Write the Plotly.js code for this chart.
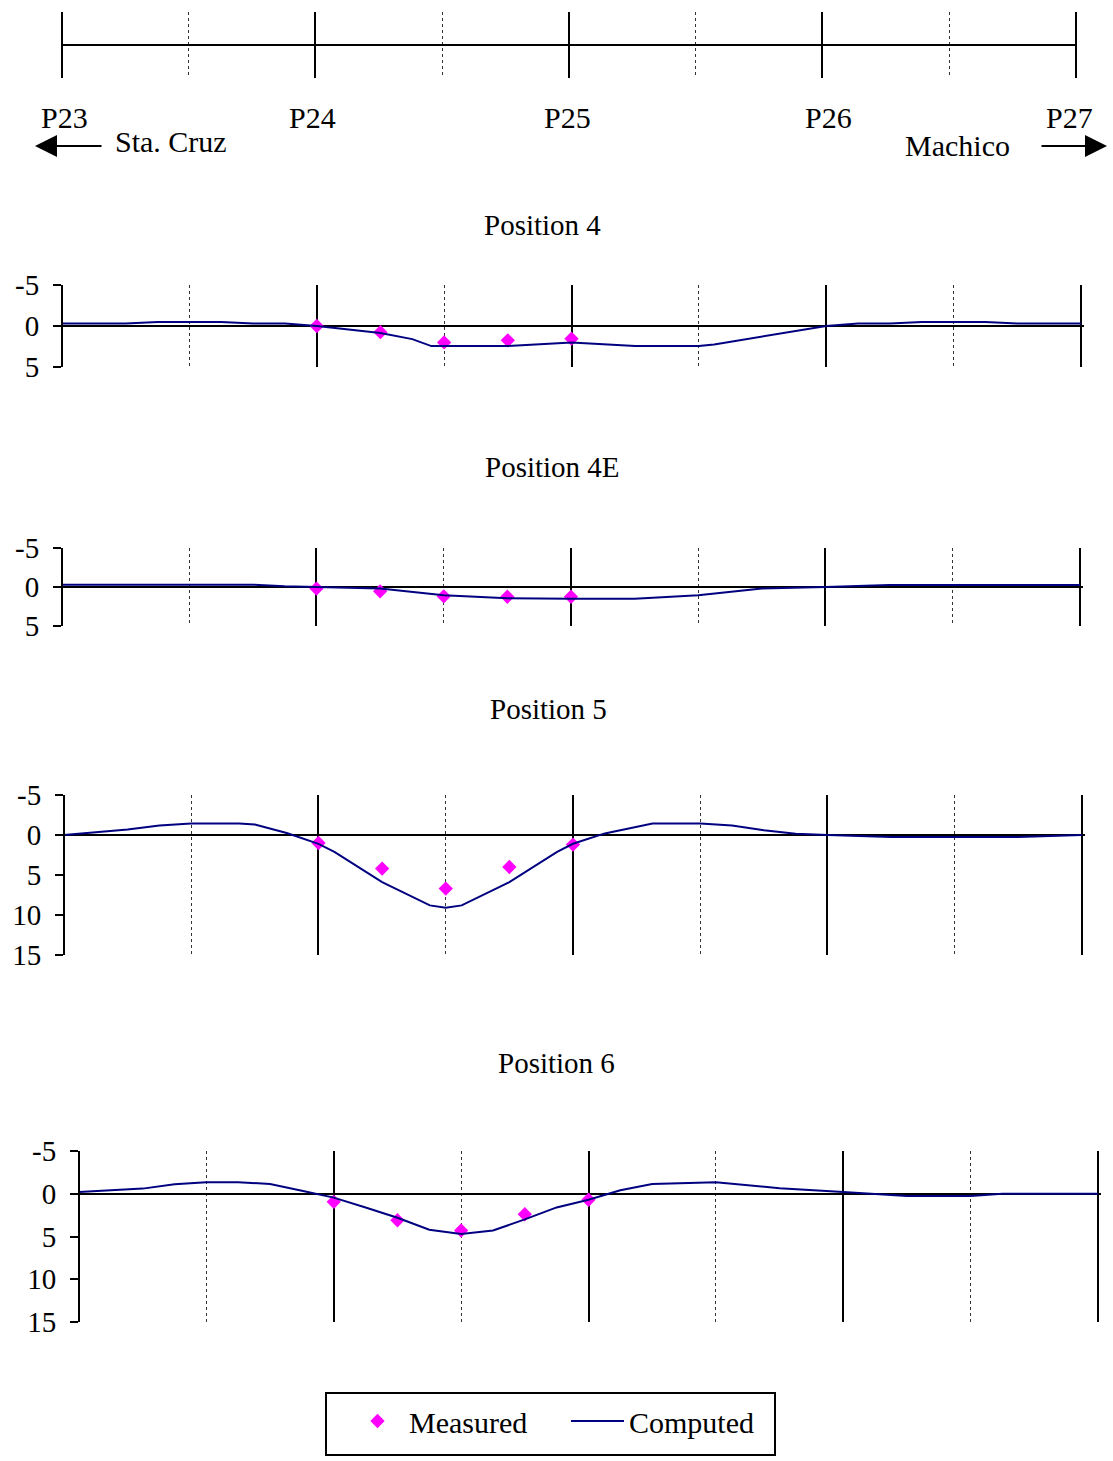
<!DOCTYPE html>
<html><head><meta charset="utf-8">
<script src="https://cdn.plot.ly/plotly-3.0.1.min.js"></script>
<style>html,body{margin:0;padding:0;background:#fff}</style>
</head><body><div id="chart" style="width:1113px;height:1461px"></div>
<script>
// ---- data ----
const piers = ['P23', 'P24', 'P25', 'P26', 'P27'];
const pierPos = [0, 1, 2, 3, 4];
const panelTitles = ['Position 4', 'Position 4E', 'Position 5', 'Position 6'];
const yTickVals4 = [-5, 0, 5];
const yTickText4 = ['-5', '0', '5'];
const yTickVals5 = [-5, 0, 5, 10, 15];
const yTickText5 = ['-5', '0', '5', '10', '15'];

const measuredX = [1, 1.25, 1.5, 1.75, 2];
const measured4 = [0, 0.75, 2.0, 1.75, 1.55];
const measured4E = [0.2, 0.55, 1.2, 1.25, 1.25];
const measured5 = [1.0, 4.2, 6.7, 4.0, 1.2];
const measured6 = [0.95, 3.1, 4.3, 2.4, 0.7];

const computed4X = [0, 0.25, 0.375, 0.625, 0.75, 0.875, 1.0, 1.25, 1.375, 1.45, 1.75, 2.0, 2.25, 2.5, 2.56, 3.0, 3.125, 3.25, 3.375, 3.625, 3.75, 4.0];
const computed4 = [-0.3, -0.3, -0.5, -0.5, -0.3, -0.3, 0, 0.85, 1.6, 2.45, 2.45, 2.0, 2.45, 2.45, 2.25, 0, -0.3, -0.3, -0.5, -0.5, -0.3, -0.3];

const computed4EX = [0, 0.75, 0.875, 1.0, 1.125, 1.25, 1.5, 1.75, 2.0, 2.25, 2.5, 2.75, 3.0, 3.25, 4.0];
const computed4E = [-0.3, -0.3, -0.1, 0, 0.05, 0.2, 1.05, 1.45, 1.5, 1.5, 1.05, 0.2, 0, -0.25, -0.25];

const computed5X = [0, 0.25, 0.375, 0.5, 0.6875, 0.75, 0.875, 1.0, 1.0625, 1.25, 1.4375, 1.5, 1.5625, 1.75, 1.9375, 2.0, 2.125, 2.3125, 2.5, 2.625, 2.75, 2.875, 3.0, 3.25, 3.75, 4.0];
const computed5 = [0, -0.7, -1.2, -1.45, -1.45, -1.3, -0.25, 1.1, 2.1, 5.9, 8.8, 9.1, 8.8, 5.9, 2.1, 1.1, -0.2, -1.45, -1.45, -1.2, -0.6, -0.15, 0, 0.25, 0.25, 0];

const computed6X = [0, 0.25, 0.375, 0.5, 0.625, 0.75, 0.875, 1.0, 1.125, 1.25, 1.375, 1.5, 1.625, 1.75, 1.875, 2.0, 2.125, 2.25, 2.5, 2.75, 3.0, 3.25, 3.5, 3.625, 4.0];
const computed6 = [-0.2, -0.6, -1.1, -1.35, -1.35, -1.15, -0.35, 0.45, 1.6, 2.8, 4.2, 4.7, 4.3, 3.0, 1.6, 0.7, -0.4, -1.15, -1.35, -0.65, -0.2, 0.27, 0.27, 0, 0];

// ---- layout helpers ----
const W = 1113, H = 1461;
const fx = v => v / W;
const fy = v => 1 - v / H;
const FONT = 'Liberation Serif, Times New Roman, serif';
const MAG = '#FF00FF', NAVY = '#000080';
const EXT = 0.012; // small range padding so the end gridlines are drawn

const panels = [
  {mx: measured4, cx: computed4X, cy: computed4, xd: [62, 1081], yd: [285, 367], range: [5, -5], tv: yTickVals4, tt: yTickText4, title: [542, 225]},
  {mx: measured4E, cx: computed4EX, cy: computed4E, xd: [62, 1080], yd: [548, 626], range: [5, -5], tv: yTickVals4, tt: yTickText4, title: [552, 467]},
  {mx: measured5, cx: computed5X, cy: computed5, xd: [64, 1082], yd: [795, 955], range: [15, -5], tv: yTickVals5, tt: yTickText5, title: [548, 709]},
  {mx: measured6, cx: computed6X, cy: computed6, xd: [79, 1098], yd: [1151, 1322], range: [15, -5], tv: yTickVals5, tt: yTickText5, title: [556, 1063]}
];

function xAxis(x0, x4, anchor) {
  const k = (x4 - x0) / 4;
  return {
    domain: [fx(x0 - EXT * k), fx(x4 + EXT * k)], anchor: anchor,
    range: [-EXT, 4 + EXT], showticklabels: false, ticks: '', showline: false, zeroline: false,
    showgrid: true, tickmode: 'linear', dtick: 1, tick0: 0, gridcolor: '#000', gridwidth: 2,
    minor: {dtick: 0.5, tick0: 0, showgrid: true, gridcolor: '#333', gridwidth: 1, griddash: 'dot'},
    fixedrange: true
  };
}

const data = [];
const layout = {
  width: W, height: H,
  margin: {l: 0, r: 0, t: 0, b: 0},
  paper_bgcolor: '#fff', plot_bgcolor: 'rgba(0,0,0,0)',
  font: {family: FONT, size: 30, color: '#000'},
  showlegend: true,
  legend: {
    orientation: 'h', x: fx(346), y: fy(1395), xanchor: 'left', yanchor: 'top',
    borderwidth: 0, bgcolor: 'rgba(0,0,0,0)',
    font: {family: FONT, size: 30, color: '#000'}, itemwidth: 53, entrywidth: 152, traceorder: 'normal'
  },
  annotations: [],
  shapes: [
    {type: 'rect', xref: 'paper', yref: 'paper', x0: fx(326), x1: fx(775), y0: fy(1455), y1: fy(1393), line: {color: '#000', width: 2}, fillcolor: 'rgba(0,0,0,0)', layer: 'below'}
  ]
};

// top schematic
layout.xaxis = xAxis(62, 1076, 'y');
layout.yaxis = {domain: [fy(78), fy(12)], range: [-1, 1], showticklabels: false, ticks: '', showline: false, showgrid: false, zeroline: false, anchor: 'x', fixedrange: true};
data.push({x: pierPos, y: pierPos.map(() => 0), type: 'scatter', mode: 'lines', line: {color: '#000', width: 2}, xaxis: 'x', yaxis: 'y', showlegend: false, hoverinfo: 'skip'});

const labelShift = [3, -3, -1, 6, -6];
piers.forEach((p, i) => {
  layout.annotations.push({x: pierPos[i], y: fy(117), xref: 'x', yref: 'paper', text: p, showarrow: false, xanchor: 'center', yanchor: 'middle', xshift: labelShift[i], font: {size: 30}});
});
layout.annotations.push({x: fx(113), y: fy(141), xref: 'paper', yref: 'paper', text: 'Sta. Cruz', showarrow: false, xanchor: 'left', yanchor: 'middle', font: {size: 30}});
layout.annotations.push({x: fx(1012), y: fy(145), xref: 'paper', yref: 'paper', text: 'Machico', showarrow: false, xanchor: 'right', yanchor: 'middle', font: {size: 30}});
layout.annotations.push({x: fx(35), y: fy(146), xref: 'paper', yref: 'paper', text: '', showarrow: true, ax: 68, ay: 0, arrowhead: 2, arrowsize: 2.2, arrowwidth: 2, arrowcolor: '#000', standoff: 0});
layout.annotations.push({x: fx(1107), y: fy(146), xref: 'paper', yref: 'paper', text: '', showarrow: true, ax: -67, ay: 0, arrowhead: 2, arrowsize: 2.2, arrowwidth: 2, arrowcolor: '#000', standoff: 0});

panels.forEach((p, i) => {
  const n = i + 2;
  const xa = 'x' + n, ya = 'y' + n;
  layout['xaxis' + n] = xAxis(p.xd[0], p.xd[1], ya);
  layout['yaxis' + n] = {
    domain: [fy(p.yd[1]), fy(p.yd[0])], range: p.range, anchor: 'free', position: fx(p.xd[0]), overlaying: undefined,
    tickvals: p.tv, ticktext: p.tt, ticks: 'outside', ticklen: 8, tickwidth: 2, tickcolor: '#000',
    showline: true, linecolor: '#000', linewidth: 2, showgrid: false,
    zeroline: true, zerolinecolor: '#000', zerolinewidth: 2,
    tickfont: {family: FONT, size: 29, color: '#000'}, ticklabelstandoff: 8, fixedrange: true
  };
  data.push({x: measuredX, y: p.mx, type: 'scatter', mode: 'markers', name: 'Measured',
    marker: {symbol: 'diamond', size: 11, color: MAG}, xaxis: xa, yaxis: ya,
    showlegend: i === 0, legendgroup: 'm', cliponaxis: false});
  data.push({x: p.cx, y: p.cy, type: 'scatter', mode: 'lines', name: 'Computed',
    line: {color: NAVY, width: 2}, xaxis: xa, yaxis: ya,
    showlegend: i === 0, legendgroup: 'c', cliponaxis: false});
  layout.annotations.push({x: fx(p.title[0]), y: fy(p.title[1]), xref: 'paper', yref: 'paper', text: panelTitles[i], showarrow: false, xanchor: 'center', yanchor: 'middle', font: {size: 29}});
});

Plotly.newPlot('chart', data, layout, {staticPlot: true, displayModeBar: false});
</script>
</body></html>
